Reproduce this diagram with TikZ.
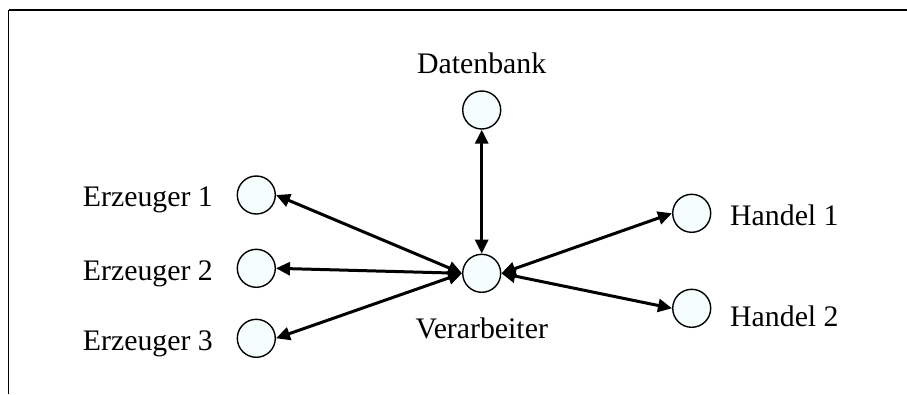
\documentclass[tikz,border=0pt]{standalone}
\usepackage{fontspec}
\setmainfont{Liberation Serif}
\usetikzlibrary{arrows.meta}
\definecolor{nodefill}{RGB}{245,253,253}
\tikzset{
  station/.style={circle,draw=black,line width=1.4pt,fill=nodefill,minimum size=38pt,inner sep=0pt},
  lbl/.style={inner sep=0pt,font=\fontsize{29.8}{34}\selectfont},
  link/.style={line width=3pt,{Triangle[length=14pt,width=13pt]}-{Triangle[length=14pt,width=13pt]}}
}
\begin{document}
\begin{tikzpicture}[x=1pt,y=-1pt]
\useasboundingbox (0,0) rectangle (907,394);
\coordinate (tl) at (8.5,10);
\coordinate (tr) at (907,10);
\coordinate (bl) at (8.5,394);
\draw[line width=2.6pt] (tl) -- (tr);
\draw[line width=1.6pt] (tl) -- (bl);

\node[station] (db) at (481.7,110) {};
\node[station] (v)  at (481.7,273.3) {};
\node[station] (e1) at (256.3,195) {};
\node[station] (e2) at (256.3,268.3) {};
\node[station] (e3) at (256.3,338.3) {};
\node[station] (h1) at (691.7,213.3) {};
\node[station] (h2) at (691.7,308.3) {};

\node[lbl,anchor=base] (tdb) at (481.7,73) {Datenbank};
\node[lbl,anchor=base] (tv) at (481.7,338) {Verarbeiter};
\node[lbl,anchor=base east] (te1) at (213,206.7) {Erzeuger 1};
\node[lbl,anchor=base east] (te2) at (213,280) {Erzeuger 2};
\node[lbl,anchor=base east] (te3) at (213,350) {Erzeuger 3};
\node[lbl,anchor=base west] (th1) at (730,225) {Handel 1};
\node[lbl,anchor=base west] (th2) at (730,326.7) {Handel 2};

\draw[link] (v.north) -- (db.south);
\draw[link] (v.west) -- (e1.east);
\draw[link] (v.west) -- (e2.east);
\draw[link] (v.west) -- (e3.east);
\draw[link] (v.east) -- (h1.west);
\draw[link] (v.east) -- (h2.west);
\end{tikzpicture}
\end{document}
